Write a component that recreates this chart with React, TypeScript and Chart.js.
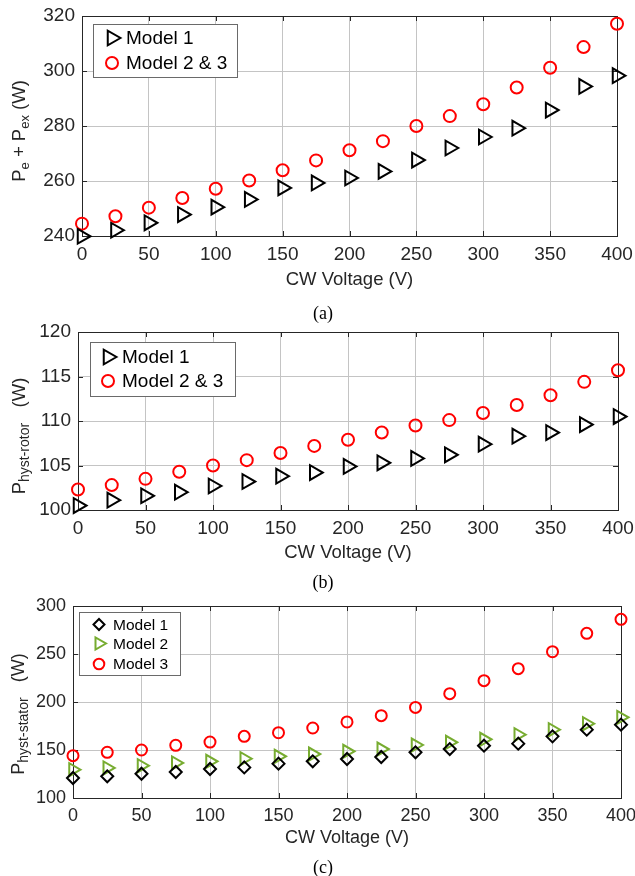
import React, { useEffect, useRef } from 'react';
import { Chart, registerables } from 'chart.js';
import { drawPoint } from 'chart.js/helpers';

Chart.register(...registerables);

// ---------- data ----------
const cwVoltage = [0, 25, 50, 75, 100, 125, 150, 175, 200, 225, 250, 275, 300, 325, 350, 375, 400];

// (a) Pe + Pex (W)
const peModel1 = [239.9, 242.1, 244.8, 247.8, 250.5, 253.3, 257.5, 259.3, 261.1, 263.5, 267.6, 272.0, 276.0, 279.2, 285.8, 294.4, 298.3];
const peModel23 = [244.5, 247.2, 250.3, 253.8, 257.2, 260.2, 263.9, 267.5, 271.2, 274.5, 280.0, 283.6, 287.9, 294.0, 301.2, 308.7, 317.2];

// (b) P hyst-rotor (W)
const rotorModel1 = [100.5, 101.1, 101.6, 102.0, 102.7, 103.2, 103.8, 104.2, 104.9, 105.3, 105.8, 106.2, 107.4, 108.3, 108.7, 109.6, 110.5];
const rotorModel23 = [102.3, 102.8, 103.5, 104.3, 105.0, 105.6, 106.4, 107.2, 107.9, 108.7, 109.5, 110.1, 110.9, 111.8, 112.9, 114.4, 115.7];

// (c) P hyst-stator (W)
const statorModel1 = [120.8, 122.6, 125.3, 127.1, 130.2, 131.9, 135.8, 138.2, 140.6, 142.7, 147.6, 151.0, 154.5, 156.6, 164.2, 171.2, 176.4];
const statorModel2 = [129.5, 131.3, 133.7, 136.5, 138.2, 141.0, 143.4, 145.8, 148.6, 151.0, 155.2, 158.0, 161.1, 166.0, 171.2, 177.4, 184.0];
const statorModel3 = [144.1, 147.6, 150.0, 154.9, 158.3, 164.2, 168.0, 172.9, 179.2, 185.8, 194.4, 208.7, 222.2, 234.7, 252.4, 271.5, 286.1];

const xRange = [0, 400];
const xStep = 50;
const peRange = [240, 320];
const peStep = 20;
const rotorRange = [100, 120];
const rotorStep = 5;
const statorRange = [100, 300];
const statorStep = 50;

const xLabel = 'CW Voltage (V)';
const captions = ['(a)', '(b)', '(c)'];

// ---------- styling ----------
const FONT = '"Liberation Sans", Arial, Helvetica, sans-serif';
const AXIS_COLOR = '#262626';
const GRID_COLOR = '#c4c4c4';
const RED = '#ff0000';
const GREEN = '#77ac30';
const PAGE_W = 635;

const pts = (ys: number[]) => ys.map((y, i) => ({ x: cwVoltage[i], y }));

const framePlugin = {
  id: 'matlabFrame',
  beforeDatasetsDraw(chart: any, _args: any, o: any) {
    const { ctx, chartArea: ca, scales } = chart;
    ctx.save();
    ctx.strokeStyle = AXIS_COLOR;
    ctx.lineWidth = 1;
    const tl = 5;
    ctx.beginPath();
    scales.x.ticks.forEach((t: any) => {
      const px = Math.round(scales.x.getPixelForValue(t.value)) + 0.5;
      ctx.moveTo(px, ca.bottom);
      ctx.lineTo(px, ca.bottom - tl);
      ctx.moveTo(px, ca.top);
      ctx.lineTo(px, ca.top + tl);
    });
    scales.y.ticks.forEach((t: any) => {
      const py = Math.round(scales.y.getPixelForValue(t.value)) + 0.5;
      ctx.moveTo(ca.left, py);
      ctx.lineTo(ca.left + tl, py);
      ctx.moveTo(ca.right, py);
      ctx.lineTo(ca.right - tl, py);
    });
    ctx.stroke();
    ctx.strokeRect(Math.round(ca.left) + 0.5, Math.round(ca.top) + 0.5, Math.round(ca.right - ca.left), Math.round(ca.bottom - ca.top));
    ctx.restore();
  },
  afterDraw(chart: any, _args: any, o: any) {
    const { ctx, chartArea: ca } = chart;
    ctx.save();
    // x title
    ctx.fillStyle = AXIS_COLOR;
    ctx.font = `${o.titleSize}px ${FONT}`;
    ctx.textAlign = 'center';
    ctx.textBaseline = 'middle';
    ctx.fillText(xLabel, (ca.left + ca.right) / 2, o.xTitleY);

    // y title with subscripts
    const segs: { t: string; sub?: boolean }[] = o.yTitle.segments;
    const mainF = `${o.titleSize}px ${FONT}`;
    const subF = `${o.subSize}px ${FONT}`;
    let total = 0;
    segs.forEach((s) => {
      ctx.font = s.sub ? subF : mainF;
      total += ctx.measureText(s.t).width;
    });
    ctx.translate(o.yTitle.x, o.yTitle.cy);
    ctx.rotate(-Math.PI / 2);
    ctx.textAlign = 'left';
    ctx.textBaseline = 'alphabetic';
    let cx = -total / 2;
    segs.forEach((s) => {
      ctx.font = s.sub ? subF : mainF;
      ctx.fillText(s.t, cx, s.sub ? o.subShift : 0);
      cx += ctx.measureText(s.t).width;
    });
    ctx.setTransform(1, 0, 0, 1, 0, 0);
    ctx.restore();

    // legend
    const lg = o.legend;
    ctx.save();
    ctx.fillStyle = '#ffffff';
    ctx.fillRect(lg.x, lg.y, lg.w, lg.h);
    ctx.strokeStyle = '#6a6a6a';
    ctx.lineWidth = 1;
    ctx.strokeRect(lg.x + 0.5, lg.y + 0.5, lg.w, lg.h);
    chart.data.datasets.forEach((ds: any, i: number) => {
      const y = lg.rows[i];
      ctx.strokeStyle = ds.pointBorderColor;
      ctx.fillStyle = 'rgba(0,0,0,0)';
      ctx.lineWidth = ds.pointBorderWidth;
      drawPoint(ctx, {
        pointStyle: ds.pointStyle,
        rotation: ds.pointRotation || 0,
        radius: lg.radii[i],
        borderWidth: ds.pointBorderWidth,
      } as any, lg.markerX, y);
      ctx.fillStyle = '#000000';
      ctx.font = `${lg.font}px ${FONT}`;
      ctx.textAlign = 'left';
      ctx.textBaseline = 'middle';
      ctx.fillText(ds.label, lg.textX, y + 1);
    });
    ctx.restore();
  },
};

type Panel = {
  top: number;
  height: number;
  plot: { left: number; right: number; top: number; bottom: number };
  yRange: number[];
  yStep: number;
  datasets: any[];
  tickSize: number;
  frame: any;
};

const tri = (label: string, data: number[], color: string, r: number) => ({
  label,
  data: pts(data),
  pointStyle: 'triangle',
  pointRotation: 90,
  pointRadius: r,
  pointHoverRadius: r,
  pointBorderColor: color,
  pointBackgroundColor: 'rgba(0,0,0,0)',
  pointBorderWidth: 2,
  showLine: false,
  clip: false,
});
const circ = (label: string, data: number[], color: string, r: number) => ({
  label,
  data: pts(data),
  pointStyle: 'circle',
  pointRadius: r,
  pointHoverRadius: r,
  pointBorderColor: color,
  pointBackgroundColor: 'rgba(0,0,0,0)',
  pointBorderWidth: 2,
  showLine: false,
  clip: false,
});
const diam = (label: string, data: number[], color: string, r: number) => ({
  label,
  data: pts(data),
  pointStyle: 'rectRot',
  pointRadius: r,
  pointHoverRadius: r,
  pointBorderColor: color,
  pointBackgroundColor: 'rgba(0,0,0,0)',
  pointBorderWidth: 2,
  showLine: false,
  clip: false,
});

const panels: Panel[] = [
  {
    top: 0,
    height: 296,
    plot: { left: 82, right: 617, top: 16, bottom: 236 },
    yRange: peRange,
    yStep: peStep,
    tickSize: 19,
    datasets: [tri('Model 1', peModel1, '#000000', 8.5), circ('Model 2 & 3', peModel23, RED, 6)],
    frame: {
      titleSize: 18.5,
      subSize: 13,
      subShift: 4,
      xTitleY: 280,
      yTitle: { x: 25, cy: 131, segments: [{ t: 'P' }, { t: 'e', sub: true }, { t: ' + P' }, { t: 'ex', sub: true }, { t: ' (W)' }] },
      legend: { x: 93, y: 24, w: 144, h: 53, markerX: 112, textX: 126, rows: [38, 63], radii: [8.5, 6], font: 19 },
    },
  },
  {
    top: 300,
    height: 266,
    plot: { left: 78, right: 618, top: 332, bottom: 510 },
    yRange: rotorRange,
    yStep: rotorStep,
    tickSize: 19,
    datasets: [tri('Model 1', rotorModel1, '#000000', 8.5), circ('Model 2 & 3', rotorModel23, RED, 6)],
    frame: {
      titleSize: 18.5,
      subSize: 14,
      subShift: 4,
      xTitleY: 553,
      yTitle: { x: 25, cy: 436, segments: [{ t: 'P' }, { t: 'hyst-rotor', sub: true }, { t: '   (W)' }] },
      legend: { x: 90, y: 342, w: 145, h: 54, markerX: 108, textX: 122, rows: [357, 381], radii: [8.5, 6], font: 19 },
    },
  },
  {
    top: 588,
    height: 274,
    plot: { left: 73, right: 621, top: 606, bottom: 798 },
    yRange: statorRange,
    yStep: statorStep,
    tickSize: 18,
    datasets: [
      diam('Model 1', statorModel1, '#000000', 6),
      tri('Model 2', statorModel2, GREEN, 7.5),
      circ('Model 3', statorModel3, RED, 5.5),
    ],
    frame: {
      titleSize: 18,
      subSize: 14,
      subShift: 4,
      xTitleY: 838,
      yTitle: { x: 24, cy: 714, segments: [{ t: 'P' }, { t: 'hyst-stator', sub: true }, { t: '   (W)' }] },
      legend: { x: 79, y: 612, w: 101, h: 63, markerX: 99, textX: 113, rows: [624.5, 643.5, 664], radii: [5.5, 7, 5.3], font: 15.5 },
    },
  },
];

function shiftFrame(frame: any, top: number) {
  return {
    ...frame,
    xTitleY: frame.xTitleY - top,
    yTitle: { ...frame.yTitle, cy: frame.yTitle.cy - top },
    legend: {
      ...frame.legend,
      y: frame.legend.y - top,
      rows: frame.legend.rows.map((r: number) => r - top),
    },
  };
}

function ChartPanel({ p }: { p: Panel }) {
  const ref = useRef<HTMLCanvasElement | null>(null);
  useEffect(() => {
    if (!ref.current) return;
    const padTop = p.plot.top - p.top;
    const padRight = PAGE_W - p.plot.right;
    const xAxisH = p.top + p.height - p.plot.bottom;
    const tickFont = { family: FONT, size: p.tickSize };
    const chart = new Chart(ref.current, {
      type: 'scatter',
      data: { datasets: p.datasets },
      options: {
        animation: false,
        responsive: false,
        maintainAspectRatio: false,
        devicePixelRatio: 1,
        layout: { padding: { top: padTop, right: padRight, left: 0, bottom: 0 } },
        plugins: {
          legend: { display: false },
          tooltip: { enabled: false },
          matlabFrame: shiftFrame(p.frame, p.top),
        } as any,
        scales: {
          x: {
            type: 'linear',
            min: xRange[0],
            max: xRange[1],
            ticks: { stepSize: xStep, color: AXIS_COLOR, font: tickFont, padding: 7, maxRotation: 0, autoSkip: false },
            grid: { color: GRID_COLOR, drawTicks: false },
            border: { display: false },
            afterFit: (s: any) => {
              s.height = xAxisH;
              s.paddingLeft = 0;
              s.paddingRight = 0;
            },
          },
          y: {
            type: 'linear',
            min: p.yRange[0],
            max: p.yRange[1],
            ticks: { stepSize: p.yStep, color: AXIS_COLOR, font: tickFont, padding: 7, autoSkip: false },
            grid: { color: GRID_COLOR, drawTicks: false },
            border: { display: false },
            afterFit: (s: any) => {
              s.width = p.plot.left;
              s.paddingTop = 0;
              s.paddingBottom = 0;
            },
          },
        },
      } as any,
      plugins: [framePlugin as any],
    });
    return () => chart.destroy();
  }, [p]);
  return (
    <canvas
      ref={ref}
      width={PAGE_W}
      height={p.height}
      style={{ position: 'absolute', left: 0, top: p.top, width: PAGE_W, height: p.height }}
    />
  );
}

const captionPos = [313, 582, 867];

export default function App() {
  return (
    <div style={{ position: 'absolute', left: 0, top: 0, width: PAGE_W, height: 876, background: '#fff', overflow: 'hidden' }}>
      {panels.map((p, i) => (
        <ChartPanel key={i} p={p} />
      ))}
      {captions.map((c, i) => (
        <div
          key={c}
          style={{
            position: 'absolute',
            left: 273,
            width: 100,
            top: captionPos[i] - 11,
            height: 22,
            lineHeight: '22px',
            textAlign: 'center',
            fontFamily: '"Liberation Serif", "Times New Roman", serif',
            fontSize: 18,
            color: '#000',
          }}
        >
          {c}
        </div>
      ))}
    </div>
  );
}
